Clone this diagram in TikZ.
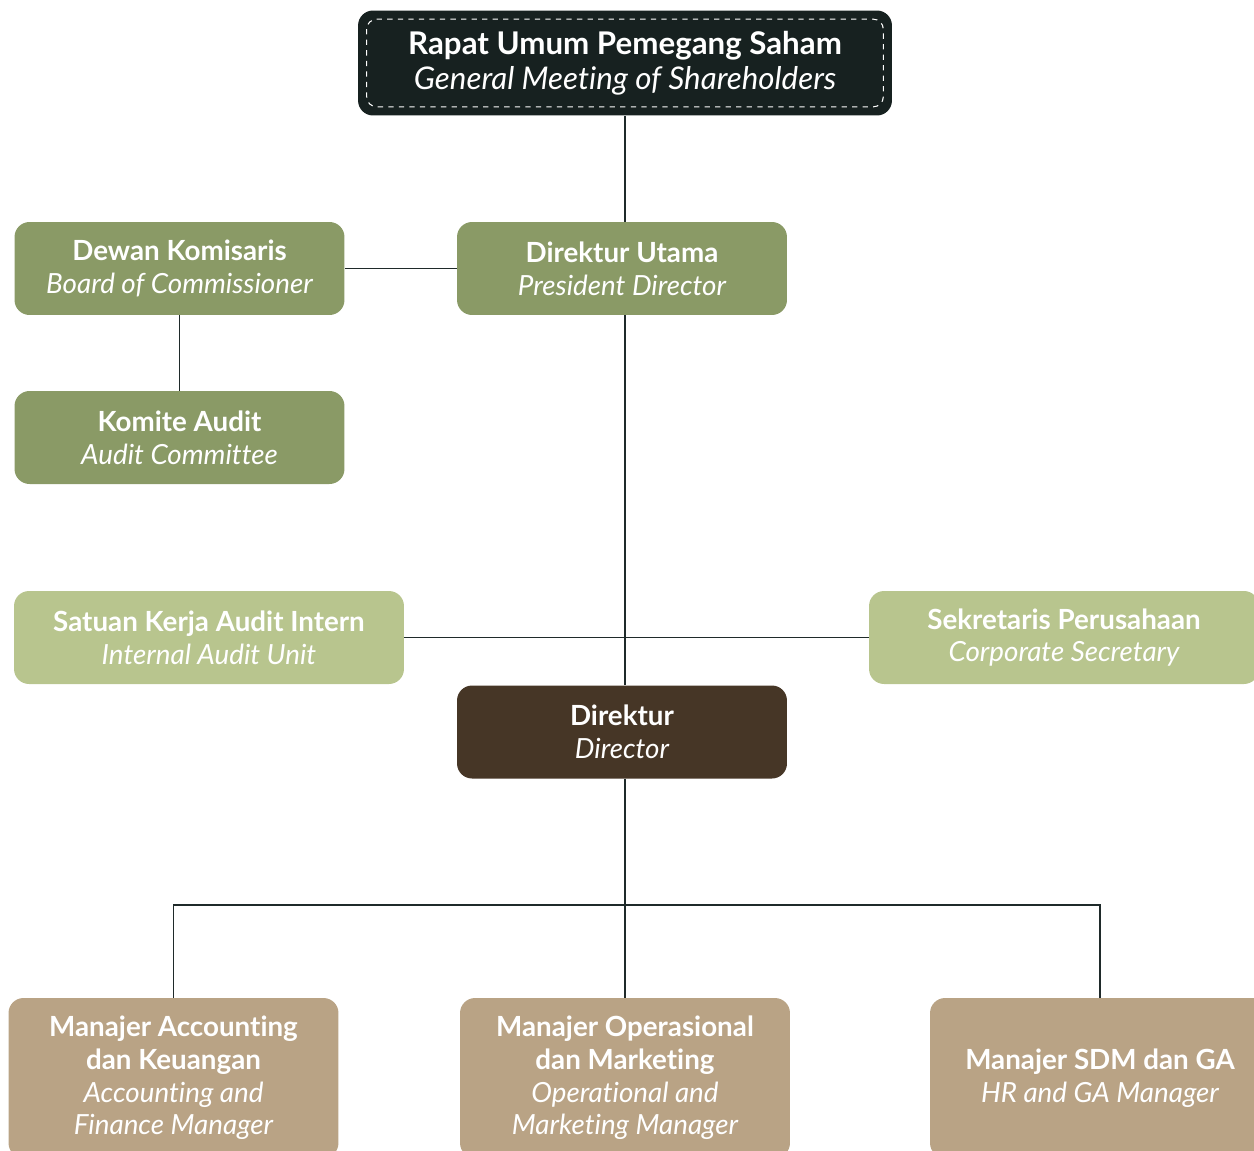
\documentclass[tikz,border=0pt]{standalone}
\usepackage{fontspec}
\setmainfont{Lato}[Ligatures=NoCommon]
\definecolor{hitam}{HTML}{172120}
\definecolor{zaitun}{HTML}{8A9A66}
\definecolor{zaitunmuda}{HTML}{B8C58E}
\definecolor{cokelat}{HTML}{463626}
\definecolor{krem}{HTML}{B9A385}
\definecolor{garis}{HTML}{1F2A2A}
\tikzset{
  kotak/.style={rounded corners=0.3cm,text=white,align=center,inner sep=0pt,
    minimum width=6.6cm,minimum height=1.86cm,font=\fontsize{15.8}{18.6}\selectfont},
  hubung/.style={draw=garis,line width=0.8pt}
}
\begin{document}
\begin{tikzpicture}[x=0.02cm,y=-0.02cm]
  \useasboundingbox (0,0) rectangle (1254,1150);

  % Sommet : assemblée des actionnaires
  \node[kotak,fill=hitam,minimum width=10.68cm,minimum height=2.1cm,
    font=\fontsize{17.8}{20}\selectfont] (rups) at (625,63)
    {\bfseries Rapat Umum Pemegang Saham\\\itshape General Meeting of Shareholders};
  \draw[white,dashed,line width=0.6pt,rounded corners=0.2cm]
    ([shift={(9,9)}]rups.north west) rectangle ([shift={(-9,-9)}]rups.south east);

  % Conseil et direction
  \node[kotak,fill=zaitun] (dekom) at (179.5,268.5)
    {\bfseries Dewan Komisaris\\\itshape Board of Commissioner};
  \node[kotak,fill=zaitun] (dirut) at (622,268.5)
    {\bfseries Direktur Utama\\\itshape President Director};
  \node[kotak,fill=zaitun] (komite) at (179.5,437.5)
    {\bfseries Komite Audit\\\itshape Audit Committee};

  % Unités rattachées
  \node[kotak,fill=zaitunmuda,minimum width=7.8cm] (skai) at (209,637.5)
    {\bfseries Satuan Kerja Audit Intern\\\itshape Internal Audit Unit};
  \node[kotak,fill=zaitunmuda,minimum width=7.8cm] (sekper) at (1064,637.5)
    {\bfseries Sekretaris Perusahaan\\\itshape Corporate Secretary};
  \node[kotak,fill=cokelat] (dir) at (622,732)
    {\bfseries Direktur\\\itshape Director};

  % Managers
  \node[kotak,fill=krem,minimum height=3.2cm] (mak) at (173.5,1078)
    {\bfseries Manajer Accounting\\\bfseries dan Keuangan\\\itshape Accounting and\\\itshape Finance Manager};
  \node[kotak,fill=krem,minimum height=3.2cm] (mom) at (625,1078)
    {\bfseries Manajer Operasional\\\bfseries dan Marketing\\\itshape Operational and\\\itshape Marketing Manager};
  \node[kotak,fill=krem,minimum width=6.8cm,minimum height=3.2cm] (msdm) at (1100,1078)
    {\bfseries Manajer SDM dan GA\\\itshape HR and GA Manager};

  % Liaisons
  \coordinate (tengah) at (625,637.5);
  \coordinate (cabang) at (625,905);
  \draw[hubung] (rups) -- (rups |- dirut.north);
  \draw[hubung] (dekom) -- (dirut);
  \draw[hubung] (dekom) -- (komite);
  \draw[hubung] (rups |- dirut.south) -- (tengah) -- (rups |- dir.north);
  \draw[hubung] (skai) -- (sekper);
  \draw[hubung] (rups |- dir.south) -- (cabang);
  \draw[hubung] (mak.north) |- (cabang) -| (msdm.north);
  \draw[hubung] (cabang) -- (mom.north);
\end{tikzpicture}
\end{document}
